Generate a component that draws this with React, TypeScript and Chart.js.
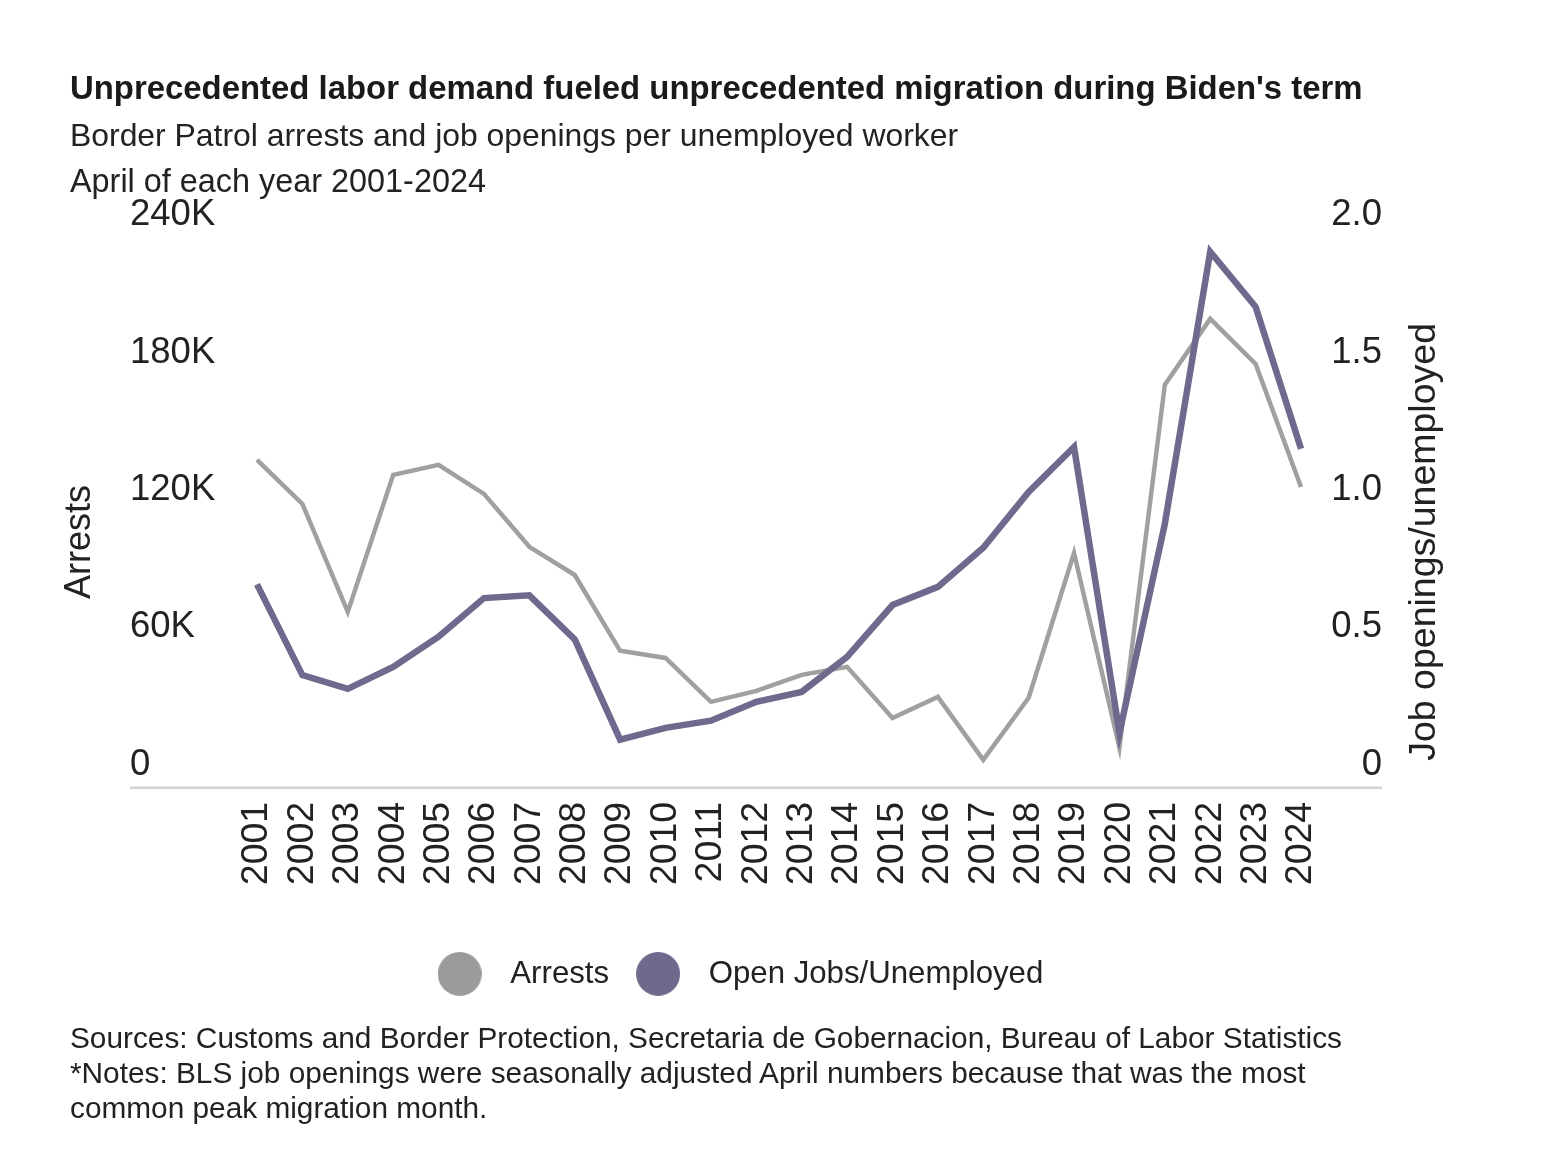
import { useEffect, useRef } from "react";
import { Chart, registerables } from "chart.js";

Chart.register(...registerables);

// April of each year
const years = [
  "2001", "2002", "2003", "2004", "2005", "2006", "2007", "2008",
  "2009", "2010", "2011", "2012", "2013", "2014", "2015", "2016",
  "2017", "2018", "2019", "2020", "2021", "2022", "2023", "2024",
];

const arrests = [
  143100, 123900, 76800, 136600, 141000, 128300, 105200, 92900,
  59800, 56700, 37500, 42300, 49300, 52800, 30500, 39700,
  12200, 39300, 102500, 17500, 175900, 204700, 185000, 131300,
];

const openJobsPerUnemployed = [
  0.74, 0.41, 0.36, 0.44, 0.55, 0.69, 0.7, 0.54,
  0.175, 0.218, 0.244, 0.313, 0.349, 0.476, 0.665, 0.731,
  0.873, 1.076, 1.24, 0.2, 0.96, 1.95, 1.75, 1.233,
];

const arrestTicks = [0, 60000, 120000, 180000, 240000];
const arrestTickLabels = ["0", "60K", "120K", "180K", "240K"];
const ratioTicks = [0, 0.5, 1, 1.5, 2];
const ratioTickLabels = ["0", "0.5", "1.0", "1.5", "2.0"];

const GRAY = "#a0a0a0";
const PURPLE = "#6e6a8d";
const TEXT = "#222222";
const FONT = "'Liberation Sans', Arial, sans-serif";

function dot(color: string) {
  const c = document.createElement("canvas");
  c.width = 44;
  c.height = 44;
  const g = c.getContext("2d")!;
  g.fillStyle = color;
  g.beginPath();
  g.arc(22, 22, 22, 0, Math.PI * 2);
  g.fill();
  return c;
}

const framePlugin = {
  id: "frame",
  afterLayout(chart: any) {
    // legend group sits a little left of centre in the original
    chart.legend.left -= 22;
    chart.legend.right -= 22;
    chart.legend.top += 2;
    chart.legend.bottom += 2;
  },
  beforeDatasetsDraw(chart: any) {
    const { ctx, chartArea } = chart;
    const yl = chart.scales.y;
    const yr = chart.scales.y1;
    const base = yl.getPixelForValue(0);
    ctx.save();
    ctx.strokeStyle = "#d3d3d3";
    ctx.lineWidth = 2.5;
    ctx.beginPath();
    ctx.moveTo(yl.left, base);
    ctx.lineTo(yr.right, base);
    ctx.stroke();

    const midY = (chartArea.top + chartArea.bottom) / 2 + 29;
    ctx.fillStyle = TEXT;
    ctx.font = `36px ${FONT}`;
    ctx.textAlign = "center";
    ctx.textBaseline = "middle";
    ctx.translate(yl.left - 50, midY);
    ctx.rotate(-Math.PI / 2);
    ctx.fillText("Arrests", 0, 0);
    ctx.restore();

    ctx.save();
    ctx.fillStyle = TEXT;
    ctx.font = `37.5px ${FONT}`;
    ctx.textAlign = "center";
    ctx.textBaseline = "middle";
    ctx.translate(yr.right + 43, midY);
    ctx.rotate(-Math.PI / 2);
    ctx.fillText("Job openings/unemployed", 0, 0);
    ctx.restore();
  },
};

function BorderChart() {
  const canvasRef = useRef<HTMLCanvasElement | null>(null);

  useEffect(() => {
    const canvas = canvasRef.current;
    if (!canvas) return;
    const dots = [dot("#9b9b9b"), dot("#6f6a8c")];

    const chart = new Chart(canvas, {
      type: "line",
      data: {
        labels: years,
        datasets: [
          {
            label: "Arrests",
            data: arrests,
            yAxisID: "y",
            borderColor: GRAY,
            borderWidth: 4.5,
            pointRadius: 0,
            tension: 0,
            order: 1,
            clip: false,
          },
          {
            label: "Open Jobs/Unemployed",
            data: openJobsPerUnemployed,
            yAxisID: "y1",
            borderColor: PURPLE,
            borderWidth: 6.5,
            pointRadius: 0,
            tension: 0,
            order: 0,
            clip: false,
          },
        ],
      },
      options: {
        responsive: false,
        animation: false,
        events: [],
        layout: { padding: { top: 238, left: 130, right: 176, bottom: 164.5 } },
        plugins: {
          tooltip: { enabled: false },
          legend: {
            position: "bottom",
            labels: {
              usePointStyle: true,
              pointStyleWidth: 70,
              padding: 14,
              color: TEXT,
              font: { family: FONT, size: 31.2 },
              sort: (a: any, b: any) => a.datasetIndex - b.datasetIndex,
              generateLabels: (c: any) =>
                Chart.defaults.plugins.legend.labels
                  .generateLabels(c)
                  .map((item: any) => ({ ...item, pointStyle: dots[item.datasetIndex] })),
            },
          },
        },
        scales: {
          x: {
            grid: { display: false, drawTicks: false },
            border: { display: false },
            afterFit: (s: any) => {
              s.height = 154.5;
            },
            ticks: {
              autoSkip: false,
              minRotation: 90,
              maxRotation: 90,
              padding: 14,
              color: TEXT,
              font: { family: FONT, size: 37.5 },
            },
          },
          y: {
            position: "left",
            min: 0,
            max: 240000,
            grid: { display: false, drawTicks: false },
            border: { display: false },
            afterFit: (s: any) => {
              s.width = 127;
            },
            afterBuildTicks: (s: any) => {
              s.ticks = arrestTicks.map((value) => ({ value }));
            },
            ticks: {
              crossAlign: "far",
              padding: 0,
              labelOffset: -23,
              color: TEXT,
              font: { family: FONT, size: 36.5 },
              callback: (_v: any, i: number) => arrestTickLabels[i],
            },
          },
          y1: {
            position: "right",
            min: 0,
            max: 2,
            grid: { display: false, drawTicks: false },
            border: { display: false },
            afterFit: (s: any) => {
              s.width = 81;
            },
            afterBuildTicks: (s: any) => {
              s.ticks = ratioTicks.map((value) => ({ value }));
            },
            ticks: {
              crossAlign: "far",
              padding: 0,
              labelOffset: -23,
              color: TEXT,
              font: { family: FONT, size: 36.5 },
              callback: (_v: any, i: number) => ratioTickLabels[i],
            },
          },
        },
      },
      plugins: [framePlugin],
    } as any);

    return () => {
      chart.destroy();
    };
  }, []);

  return (
    <canvas
      ref={canvasRef}
      width={1558}
      height={1162}
      style={{ position: "absolute", left: 0, top: 0, width: 1558, height: 1162 }}
    />
  );
}

export default function App() {
  useEffect(() => {
    document.body.style.margin = "0";
  }, []);

  const line = (top: number, size: number, lh: number, text: string, bold = false) => (
    <div
      style={{
        position: "absolute",
        left: 70,
        top,
        fontSize: size,
        lineHeight: `${lh}px`,
        fontWeight: bold ? 700 : 400,
        whiteSpace: "nowrap",
        color: bold ? "#1a1a1a" : TEXT,
      }}
    >
      {text}
    </div>
  );

  return (
    <div
      style={{
        position: "relative",
        width: 1558,
        height: 1162,
        background: "#ffffff",
        fontFamily: FONT,
        overflow: "hidden",
      }}
    >
      <BorderChart />
      {line(68, 32.9, 40, "Unprecedented labor demand fueled unprecedented migration during Biden's term", true)}
      {line(115, 31.9, 40, "Border Patrol arrests and job openings per unemployed worker")}
      {line(161, 32.4, 40, "April of each year 2001-2024")}
      {line(1019.5, 29.8, 35, "Sources: Customs and Border Protection, Secretaria de Gobernacion, Bureau of Labor Statistics")}
      {line(1054.5, 29.8, 35, "*Notes: BLS job openings were seasonally adjusted April numbers because that was the most")}
      {line(1089.5, 29.8, 35, "common peak migration month.")}
    </div>
  );
}
